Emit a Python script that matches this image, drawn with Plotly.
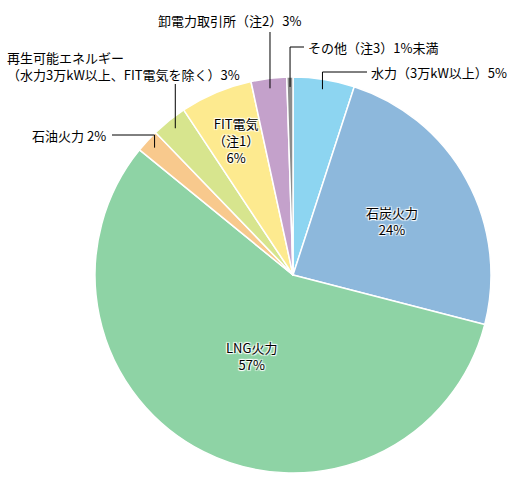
import math
import plotly.graph_objects as go

# ---- data ----
names = ["水力", "石炭火力", "LNG火力", "石油火力", "再生可能エネルギー", "FIT電気", "卸電力取引所", "その他"]
values = [5.0, 24.0, 56.8, 1.9, 2.9, 5.9, 2.9, 0.5]
label_texts = [
    "水力（3万kW以上）5%",
    "石炭火力<br>24%",
    "LNG火力<br>57%",
    "石油火力 2%",
    "再生可能エネルギー<br>（水力3万kW以上、FIT電気を除く）3%",
    "FIT電気<br>（注1）<br>6%",
    "卸電力取引所（注2）3%",
    "その他（注3）1%未満",
]
colors = ["#8DD5F1", "#8DB8DC", "#8ED3A5", "#F8C98D", "#D7E58E", "#FDEA8F", "#C4A1CB", "#8C8C8C"]

# ---- layout geometry (pixels) ----
W, H = 520, 492
CX, CY, R = 293, 275, 198
ML, MR, MT, MB = CX - R, W - (CX + R), CY - R, H - (CY + R)
FONT = "Noto Sans CJK JP, Noto Sans, sans-serif"


def px2paper(x, y):
    return (x - ML) / (2 * R), (H - MB - y) / (2 * R)


# mid angles (degrees clockwise from 12 o'clock) computed from data
total = sum(values)
mids = []
acc = 0.0
for v in values:
    mids.append((acc + v / 2) / total * 360)
    acc += v


def polar(idx, f):
    a = math.radians(mids[idx])
    return CX + f * R * math.sin(a), CY - f * R * math.cos(a)


fig = go.Figure(go.Pie(
    labels=names, values=values, sort=False, direction="clockwise", rotation=0,
    marker=dict(colors=colors, line=dict(color="white", width=1.5)),
    textinfo="none", hoverinfo="label+percent", showlegend=False,
))

annotations = []
shapes = []
halo = "1px 1px 1px #fff, -1px -1px 1px #fff, 1px -1px 1px #fff, -1px 1px 1px #fff"

# inside labels
for idx, f in [(1, 0.57), (2, 0.46), (5, 0.74)]:
    x, y = polar(idx, f)
    xp, yp = px2paper(x, y)
    annotations.append(dict(x=xp, y=yp, xref="paper", yref="paper", text=label_texts[idx],
                            showarrow=False, xanchor="center", yanchor="middle",
                            font=dict(family=FONT, size=13, color="#000", shadow=halo)))


def line(p0, p1):
    x0, y0 = px2paper(*p0)
    x1, y1 = px2paper(*p1)
    shapes.append(dict(type="line", xref="paper", yref="paper", x0=x0, y0=y0, x1=x1, y1=y1,
                       line=dict(color="#000", width=1)))


def text(idx, x, y, xanchor):
    xp, yp = px2paper(x, y)
    annotations.append(dict(x=xp, y=yp, xref="paper", yref="paper", text=label_texts[idx],
                            showarrow=False, xanchor=xanchor, yanchor="middle", align="left",
                            font=dict(family=FONT, size=13, color="#000")))


# 水力
ax, ay = polar(0, 0.95)
line((ax, ay), (ax, 72)); line((ax, 72), (367, 72))
text(0, 369, 72, "left")
# その他
ax, ay = polar(7, 0.95)
line((ax, ay), (ax, 47)); line((ax, 47), (304, 47))
text(7, 306, 47, "left")
# 卸電力取引所
ax, ay = polar(6, 0.95)
line((ax, ay), (ax, 32))
text(6, 229, 21, "center")
# 再生可能エネルギー
ax, ay = polar(4, 0.95)
line((ax, ay), (ax, 84))
text(4, 5, 66, "left")
# 石油火力
ax, ay = polar(3, 0.95)
line((ax, ay), (ax, 135)); line((ax, 135), (112, 135))
text(3, 108, 135, "right")

fig.update_layout(
    width=W, height=H, margin=dict(l=ML, r=MR, t=MT, b=MB, pad=0),
    paper_bgcolor="white", plot_bgcolor="white",
    annotations=annotations, shapes=shapes,
    font=dict(family=FONT),
)

fig.write_html("out.html", config={"displayModeBar": False},
               post_script="document.body.style.margin='0';")
